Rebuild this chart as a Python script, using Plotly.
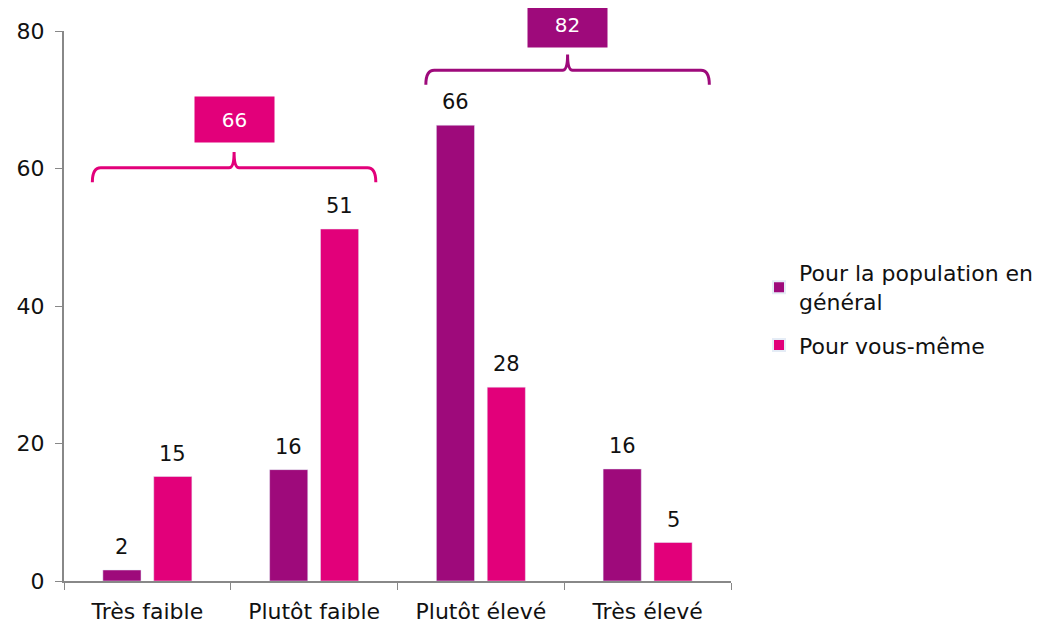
import plotly.graph_objects as go

categories = ["Très faible", "Plutôt faible", "Plutôt élevé", "Très élevé"]
series_names = ["Pour la population en<br>général", "Pour vous-même"]
population = [1.6, 16.2, 66.3, 16.3]
pop_labels = [2, 16, 66, 16]
vous_meme = [15.2, 51.2, 28.2, 5.6]
vm_labels = [15, 51, 28, 5]
colors = ["#9E0A7B", "#E2007A"]

FONT = "DejaVu Sans"
BARGAP = 0.39
BARGROUPGAP = 0.25

fig = go.Figure()
fig.add_trace(go.Bar(x=categories, y=population, name=series_names[0], marker_color=colors[0],
                     legendgroup="a"))
fig.add_trace(go.Bar(x=categories, y=vous_meme, name=series_names[1], marker_color=colors[1],
                     legendgroup="b"))

annotations = []
# value labels above bars (positions derived from the group layout)
slot = (1 - BARGAP) / 2
for k, (vals, labs) in enumerate([(population, pop_labels), (vous_meme, vm_labels)]):
    off = (k - 0.5) * slot
    for i, (v, lab) in enumerate(zip(vals, labs)):
        annotations.append(dict(x=i + off, y=v, xref="x", yref="y", text=str(lab), showarrow=False,
                                yanchor="bottom", yshift=9,
                                font=dict(size=21, color="#111", family=FONT)))

# brackets: low (très faible + plutôt faible, pour vous-même), high (plutôt élevé + très élevé, population)
brackets = [
    dict(start=0, total=vm_labels[0] + vm_labels[1], y=60.1, color=colors[1], gap=3.6),
    dict(start=2, total=pop_labels[2] + pop_labels[3], y=74.3, color=colors[0], gap=3.2),
]
shapes = []
for b in brackets:
    x0 = b["start"] - 0.33
    x1 = b["start"] + 1.37
    xc = (x0 + x1) / 2
    y = b["y"]
    c = b["color"]
    path = (f"M {x0},{y-2.1} Q {x0},{y} {x0+0.05},{y} L {xc-0.03},{y} Q {xc},{y} {xc},{y+2.3} "
            f"Q {xc},{y} {xc+0.03},{y} L {x1-0.05},{y} Q {x1},{y} {x1},{y-2.1}")
    shapes.append(dict(type="path", xref="x", yref="y", path=path, line=dict(color=c, width=3)))
    annotations.append(dict(x=xc, y=y + b["gap"], xref="x", yref="y", text=str(b["total"]),
                            showarrow=False, yanchor="bottom", bgcolor=c, width=71, height=37,
                            borderpad=4, font=dict(color="white", size=20, family=FONT)))

fig.update_layout(
    width=1055, height=623,
    margin=dict(l=56, r=332, t=23, b=50),
    plot_bgcolor="white", paper_bgcolor="white",
    barmode="group", bargap=BARGAP, bargroupgap=BARGROUPGAP,
    font=dict(family=FONT, size=21, color="#111"),
    showlegend=True,
    legend=dict(x=1.042, y=0.598, xanchor="left", yanchor="top", font=dict(size=22),
                itemsizing="constant", tracegroupgap=12, itemwidth=30),
    shapes=shapes, annotations=annotations,
)
fig.update_xaxes(type="category", showline=True, linecolor="#888", linewidth=2,
                 ticks="outside", tickson="boundaries", ticklen=7, tickcolor="#888",
                 tickfont=dict(size=22), showgrid=False, automargin=False, ticklabelstandoff=10)
fig.update_yaxes(range=[0, 80], tickvals=[0, 20, 40, 60, 80], showline=True, linecolor="#888",
                 linewidth=2, ticks="outside", ticklen=7, tickcolor="#888", showgrid=False,
                 zeroline=False, tickfont=dict(size=22), automargin=False, ticklabelstandoff=6)

fig.write_html("out.html")
